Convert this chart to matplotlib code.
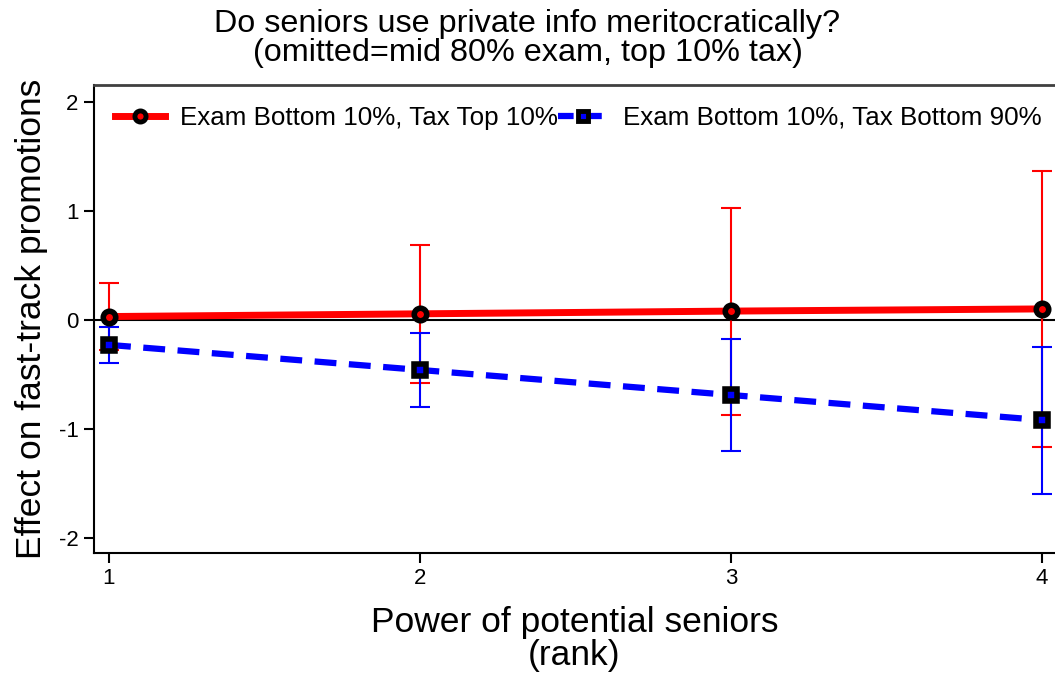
import numpy as np
import matplotlib.pyplot as plt
from matplotlib.lines import Line2D

plt.rcParams['font.family'] = ['Liberation Sans', 'DejaVu Sans']
plt.rcParams['axes.unicode_minus'] = False

# rank of potential seniors
rank = [1, 2, 3, 4]

# Exam bottom 10%, tax top 10%
top_coef = [0.03, 0.055, 0.08, 0.10]
top_lo = [-0.28, -0.58, -0.87, -1.165]
top_hi = [0.34, 0.69, 1.03, 1.37]

# Exam bottom 10%, tax bottom 90%
bot_coef = [-0.23, -0.46, -0.69, -0.92]
bot_lo = [-0.395, -0.80, -1.20, -1.60]
bot_hi = [-0.065, -0.12, -0.18, -0.245]

yticks = [-2, -1, 0, 1, 2]

fig = plt.figure(figsize=(10.55, 6.77), dpi=100)
ax = fig.add_axes([94 / 1055, 1 - 553 / 677, 1 - 94 / 1055, (553 - 85) / 677])

ax.axhline(0, color='black', lw=1.5, zorder=1)

ax.errorbar(rank, top_coef,
            yerr=[np.subtract(top_coef, top_lo), np.subtract(top_hi, top_coef)],
            fmt='none', ecolor='red', elinewidth=1.5, capsize=7, capthick=1.5, zorder=2)
ax.errorbar(rank, bot_coef,
            yerr=[np.subtract(bot_coef, bot_lo), np.subtract(bot_hi, bot_coef)],
            fmt='none', ecolor='blue', elinewidth=1.5, capsize=7, capthick=1.5, zorder=3)

ax.plot(rank, top_coef, color='red', lw=5, solid_capstyle='butt', zorder=4)
ax.plot(rank, top_coef, ls='none', marker='o', ms=9, mfc='red', mec='black', mew=4, zorder=6)
ax.plot(rank, bot_coef, color='blue', lw=4.5, ls=(0, (3.5, 2)), zorder=4)
ax.plot(rank, bot_coef, ls='none', marker='s', ms=8, mfc='blue', mec='black', mew=4, zorder=6)

ax.set_xlim(1 - 15 / 311, 4 + 13 / 311)
ax.set_ylim(-2.14, 2.155)
ax.set_xticks(rank)
ax.set_yticks(yticks)
ax.tick_params(axis='both', direction='out', length=7, width=1.5, labelsize=16, pad=4)

for side in ['left', 'bottom']:
    ax.spines[side].set_linewidth(1.5)
ax.spines['right'].set_visible(False)
ax.spines['top'].set_color('#404040')
ax.spines['top'].set_linewidth(2)

ax.set_ylabel('Effect on fast-track promotions', fontsize=25.5, labelpad=8)
ax.set_xlabel('Power of potential seniors\n(rank)', fontsize=25.5, labelpad=12, linespacing=1.0)
fig.suptitle('Do seniors use private info meritocratically?\n(omitted=mid 80% exam, top 10% tax)',
             x=0.5, y=0.986, fontsize=23.3, linespacing=0.95, va='top')

handles = [
    Line2D([], [], color='red', lw=5, marker='o', ms=8, mfc='red', mec='black', mew=3.5),
    Line2D([], [], color='blue', lw=4.5, ls=(0, (2.5, 2)), marker='s', ms=7, mfc='blue',
           mec='black', mew=3.5),
]
ax.legend(handles, ['Exam Bottom 10%, Tax Top 10%', 'Exam Bottom 10%, Tax Bottom 90%'],
          loc='upper left', ncol=2, frameon=False, fontsize=18.7, handlelength=1.95,
          handletextpad=0.55, columnspacing=0.0, bbox_to_anchor=(0.0, 1.0),
          borderpad=0.2, borderaxespad=0.6)

fig.savefig('out.png', dpi=100)
